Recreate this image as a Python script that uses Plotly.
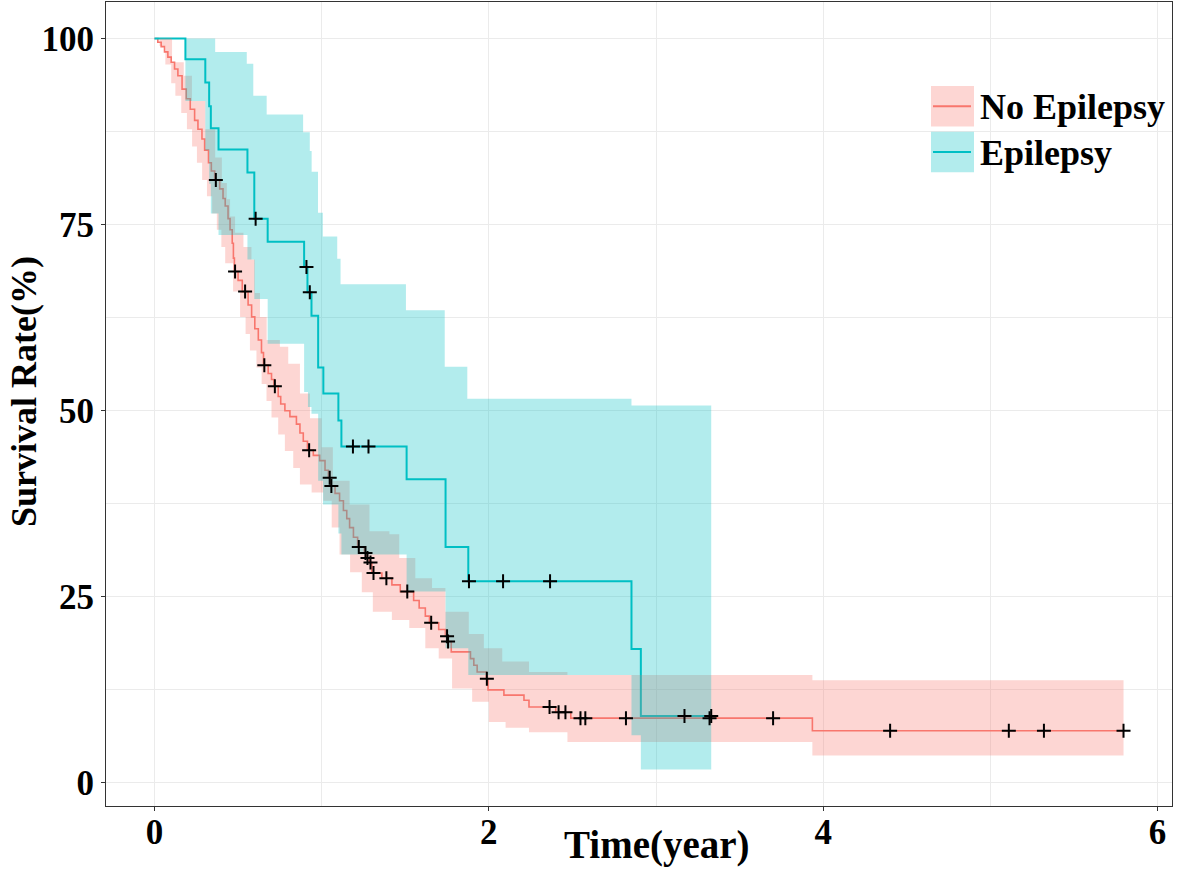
import plotly.graph_objects as go

# ---------------- data ----------------
# No Epilepsy Kaplan-Meier steps (time in years, survival %)
no_t = [0.0, 0.02, 0.04, 0.06, 0.08, 0.10, 0.12, 0.14, 0.165, 0.19, 0.214, 0.24, 0.26, 0.284,
        0.30, 0.323, 0.34, 0.36, 0.39, 0.41, 0.423, 0.44, 0.452, 0.465, 0.472, 0.478, 0.50,
        0.525, 0.56, 0.581, 0.60, 0.621, 0.64, 0.652, 0.68, 0.70, 0.715, 0.74, 0.755, 0.78,
        0.81, 0.849, 0.87, 0.89, 0.915, 0.95, 0.988, 1.02, 1.04, 1.053, 1.08, 1.107, 1.13,
        1.15, 1.167, 1.19, 1.215, 1.255, 1.27, 1.285, 1.30, 1.36, 1.42, 1.47, 1.55, 1.583,
        1.62, 1.645, 1.70, 1.74, 1.752, 1.775, 1.89, 1.91, 1.93, 1.985, 1.995, 2.09, 2.21,
        2.24, 2.40, 2.49, 3.935]
no_v = [100.0, 99.5, 98.9, 98.2, 97.5, 96.8, 95.9, 95.0, 93.2, 91.9, 90.5, 89.0, 87.8, 86.5,
        85.0, 83.3, 82.2, 81.0, 79.8, 78.5, 77.5, 75.8, 74.3, 72.5, 70.5, 68.7, 67.5,
        66.0, 64.2, 62.6, 61.0, 59.5, 57.8, 56.1, 55.0, 54.2, 53.3, 51.9, 50.9, 50.0,
        49.2, 48.2, 47.0, 45.9, 44.7, 44.0, 43.3, 42.0, 41.0, 39.9, 38.9, 37.9, 36.6,
        35.5, 34.3, 33.0, 31.7, 30.9, 30.2, 29.6, 28.2, 27.5, 26.6, 25.7, 24.5, 23.5,
        22.4, 21.5, 20.6, 19.7, 19.0, 17.6, 16.7, 15.8, 14.9, 14.0, 12.5, 11.8, 11.1,
        10.2, 9.5, 8.7, 7.0]
no_end = 5.796
no_up_t = [0.0, 0.105, 0.175, 0.224, 0.304, 0.363, 0.403, 0.433, 0.452, 0.482, 0.532, 0.58,
           0.601, 0.631, 0.671, 0.75, 0.80, 0.87, 0.93, 1.0, 1.067, 1.167, 1.286, 1.405,
           1.464, 1.56, 1.66, 1.74, 1.88, 1.97, 2.08, 2.24, 2.47, 3.935]
no_up_v = [100.0, 96.8, 95.0, 91.6, 87.8, 84.0, 80.6, 78.4, 76.1, 73.9, 72.0, 70.3,
           65.8, 62.6, 59.5, 58.6, 56.3, 52.3, 49.0, 45.1, 40.6, 37.4, 33.8, 33.4,
           30.2, 27.5, 26.2, 23.0, 20.0, 18.1, 16.3, 14.9, 14.5, 13.8]
no_lo_t = [0.0, 0.03, 0.065, 0.10, 0.125, 0.16, 0.194, 0.225, 0.254, 0.285, 0.314, 0.345,
           0.373, 0.40, 0.423, 0.47, 0.512, 0.545, 0.571, 0.61, 0.641, 0.67, 0.70, 0.74,
           0.78, 0.83, 0.87, 0.94, 1.01, 1.06, 1.107, 1.17, 1.24, 1.306, 1.42, 1.524,
           1.62, 1.70, 1.78, 1.90, 2.0, 2.1, 2.24, 2.47, 3.935]
no_lo_v = [100.0, 99.0, 96.5, 94.0, 92.3, 90.0, 87.8, 85.5, 83.3, 81.0, 78.8, 76.5,
           74.3, 72.0, 69.8, 66.0, 62.6, 60.3, 58.1, 55.8, 53.6, 51.3, 49.1, 46.8,
           44.6, 42.3, 40.1, 39.0, 37.9, 34.3, 30.7, 28.3, 25.6, 23.0, 21.9, 20.8,
           18.1, 16.7, 12.7, 10.9, 8.2, 7.4, 6.8, 5.5, 3.7]
no_cens_t = [0.367, 0.482, 0.542, 0.657, 0.720, 0.925, 1.048, 1.058, 1.222, 1.262, 1.274,
             1.292, 1.31, 1.387, 1.512, 1.655, 1.75, 1.756, 1.988, 2.363, 2.417, 2.458,
             2.548, 2.577, 2.82, 3.32, 3.70, 4.40, 5.11, 5.32, 5.796]

# Epilepsy Kaplan-Meier steps
ep_t = [0.0, 0.185, 0.304, 0.327, 0.337, 0.383, 0.556, 0.597, 0.677, 0.895, 0.915, 0.939,
        0.979, 1.010, 1.100, 1.118, 1.508, 1.741, 1.877, 2.853, 2.909]
ep_v = [100.0, 97.2, 94.1, 90.9, 87.95, 85.1, 82.0, 75.8, 72.7, 69.3, 65.9, 62.75,
        55.8, 52.3, 48.7, 45.2, 40.8, 31.7, 27.1, 18.0, 9.0]
ep_end = 3.33
ep_up_t = [0.0, 0.363, 0.552, 0.591, 0.671, 0.889, 0.929, 0.94, 0.978, 1.007, 1.093,
           1.113, 1.504, 1.736, 1.871, 2.853]
ep_up_v = [100.0, 98.2, 96.6, 92.3, 89.8, 87.4, 84.9, 82.1, 76.6, 73.4, 70.4,
           67.0, 63.5, 55.9, 51.6, 50.7]
ep_lo_t = [0.0, 0.185, 0.304, 0.327, 0.337, 0.383, 0.556, 0.597, 0.677, 0.895, 0.918,
           0.939, 0.979, 1.008, 1.100, 1.118, 1.508, 1.741, 1.877, 2.853, 2.909]
ep_lo_v = [100.0, 91.6, 85.0, 80.5, 76.5, 73.6, 70.3, 65.0, 59.0, 52.5, 50.5,
           49.6, 40.6, 37.4, 33.5, 30.7, 25.7, 18.1, 14.5, 6.4, 1.8]
ep_cens_t = [0.605, 0.909, 0.929, 1.187, 1.28, 1.881, 2.085, 2.366, 3.17, 3.33]

x_ticks = [0, 2, 4, 6]
y_ticks = [0, 25, 50, 75, 100]
groups = ["No Epilepsy", "Epilepsy"]

RED = "#F8766D"
CYAN = "#00BFC4"
RED_FILL = "rgba(248,118,109,0.30)"
CYAN_FILL = "rgba(0,191,196,0.30)"
FONT = "Liberation Serif"


def extend(t, v, end):
    return list(t) + [end], list(v) + [v[-1]]


def surv_at(t, v, x):
    s = v[0]
    for ti, vi in zip(t, v):
        if ti <= x:
            s = vi
    return s


fig = go.Figure()

# survival lines
for t, v, end, col, w in [(no_t, no_v, no_end, RED, 1.6), (ep_t, ep_v, ep_end, CYAN, 2.0)]:
    xt, yv = extend(t, v, end)
    fig.add_trace(go.Scatter(x=xt, y=yv, mode="lines", line=dict(color=col, width=w, shape="hv"),
                             showlegend=False, hoverinfo="skip"))

# confidence bands
for ut, uv, lt, lv, end, fc in [(no_up_t, no_up_v, no_lo_t, no_lo_v, no_end, RED_FILL),
                                (ep_up_t, ep_up_v, ep_lo_t, ep_lo_v, ep_end, CYAN_FILL)]:
    xu, yu = extend(ut, uv, end)
    xl, yl = extend(lt, lv, end)
    fig.add_trace(go.Scatter(x=xu, y=yu, mode="lines", line=dict(width=0, shape="hv"),
                             showlegend=False, hoverinfo="skip"))
    fig.add_trace(go.Scatter(x=xl, y=yl, mode="lines", line=dict(width=0, shape="hv"),
                             fill="tonexty", fillcolor=fc, showlegend=False, hoverinfo="skip"))

# censor marks
for ct, t, v in [(no_cens_t, no_t, no_v), (ep_cens_t, ep_t, ep_v)]:
    fig.add_trace(go.Scatter(x=ct, y=[surv_at(t, v, c) for c in ct], mode="markers",
                             marker=dict(symbol="cross-thin", size=10, color="black",
                                         line=dict(color="black", width=2)),
                             showlegend=False, hoverinfo="skip"))

# manual legend (ggplot style keys)
L, R_ = 106, 1172
T, B = 2, 806
def px(x):
    return (x - L) / (R_ - L)
def py(y):
    return (B - y) / (B - T)

shapes = []
annotations = []
for i, (name, fc, lc) in enumerate([(groups[0], RED_FILL, RED), (groups[1], CYAN_FILL, CYAN)]):
    top = 86 + i * 45.7
    bot = top + 40.5
    shapes.append(dict(type="rect", xref="paper", yref="paper", x0=px(931), x1=px(974),
                       y0=py(bot), y1=py(top), fillcolor=fc, line=dict(width=0), layer="above"))
    shapes.append(dict(type="line", xref="paper", yref="paper", x0=px(933), x1=px(971),
                       y0=py((top + bot) / 2), y1=py((top + bot) / 2),
                       line=dict(color=lc, width=2), layer="above"))
    annotations.append(dict(text=name, xref="paper", yref="paper", x=px(978), y=py((top + bot) / 2 + 1),
                            xanchor="left", yanchor="middle", showarrow=False,
                            font=dict(family=FONT, size=36, color="black", weight="bold")))

annotations.append(dict(text="Time(year)", xref="paper", yref="paper", x=px(657), y=py(845),
                        xanchor="center", yanchor="middle", showarrow=False,
                        font=dict(family=FONT, size=39, color="black", weight="bold")))
annotations.append(dict(text="Survival Rate(%)", xref="paper", yref="paper", x=px(24), y=py(392),
                        xanchor="center", yanchor="middle", showarrow=False, textangle=-90,
                        font=dict(family=FONT, size=36, color="black", weight="bold")))

axis_common = dict(showgrid=True, gridcolor="#EBEBEB", gridwidth=1.3, zeroline=False,
                   showline=True, mirror=True, linecolor="#333333", linewidth=1.2,
                   ticks="outside", ticklen=4, tickcolor="#333333", tickwidth=1,
                   automargin=False,
                   tickfont=dict(family=FONT, size=35, color="black", weight="bold"))

fig.update_layout(
    width=1180, height=869,
    margin=dict(l=L, r=1180 - R_, t=T, b=869 - B, pad=0),
    plot_bgcolor="white", paper_bgcolor="white",
    xaxis=dict(range=[-0.29, 6.086], tickvals=x_ticks, ticktext=[str(x) for x in x_ticks],
               ticklabelstandoff=-9,
               minor=dict(dtick=1, tick0=0, showgrid=True, gridcolor="#EBEBEB", gridwidth=0.8),
               **axis_common),
    yaxis=dict(range=[-3.1, 104.9], tickvals=y_ticks, ticktext=[str(y) for y in y_ticks],
               minor=dict(dtick=12.5, tick0=0, showgrid=True, gridcolor="#EBEBEB", gridwidth=0.8),
               **axis_common),
    shapes=shapes, annotations=annotations, showlegend=False,
)

fig.write_html("out.html", config={"displayModeBar": False},
               post_script="document.body.style.margin='0';document.body.style.overflow='hidden';")
